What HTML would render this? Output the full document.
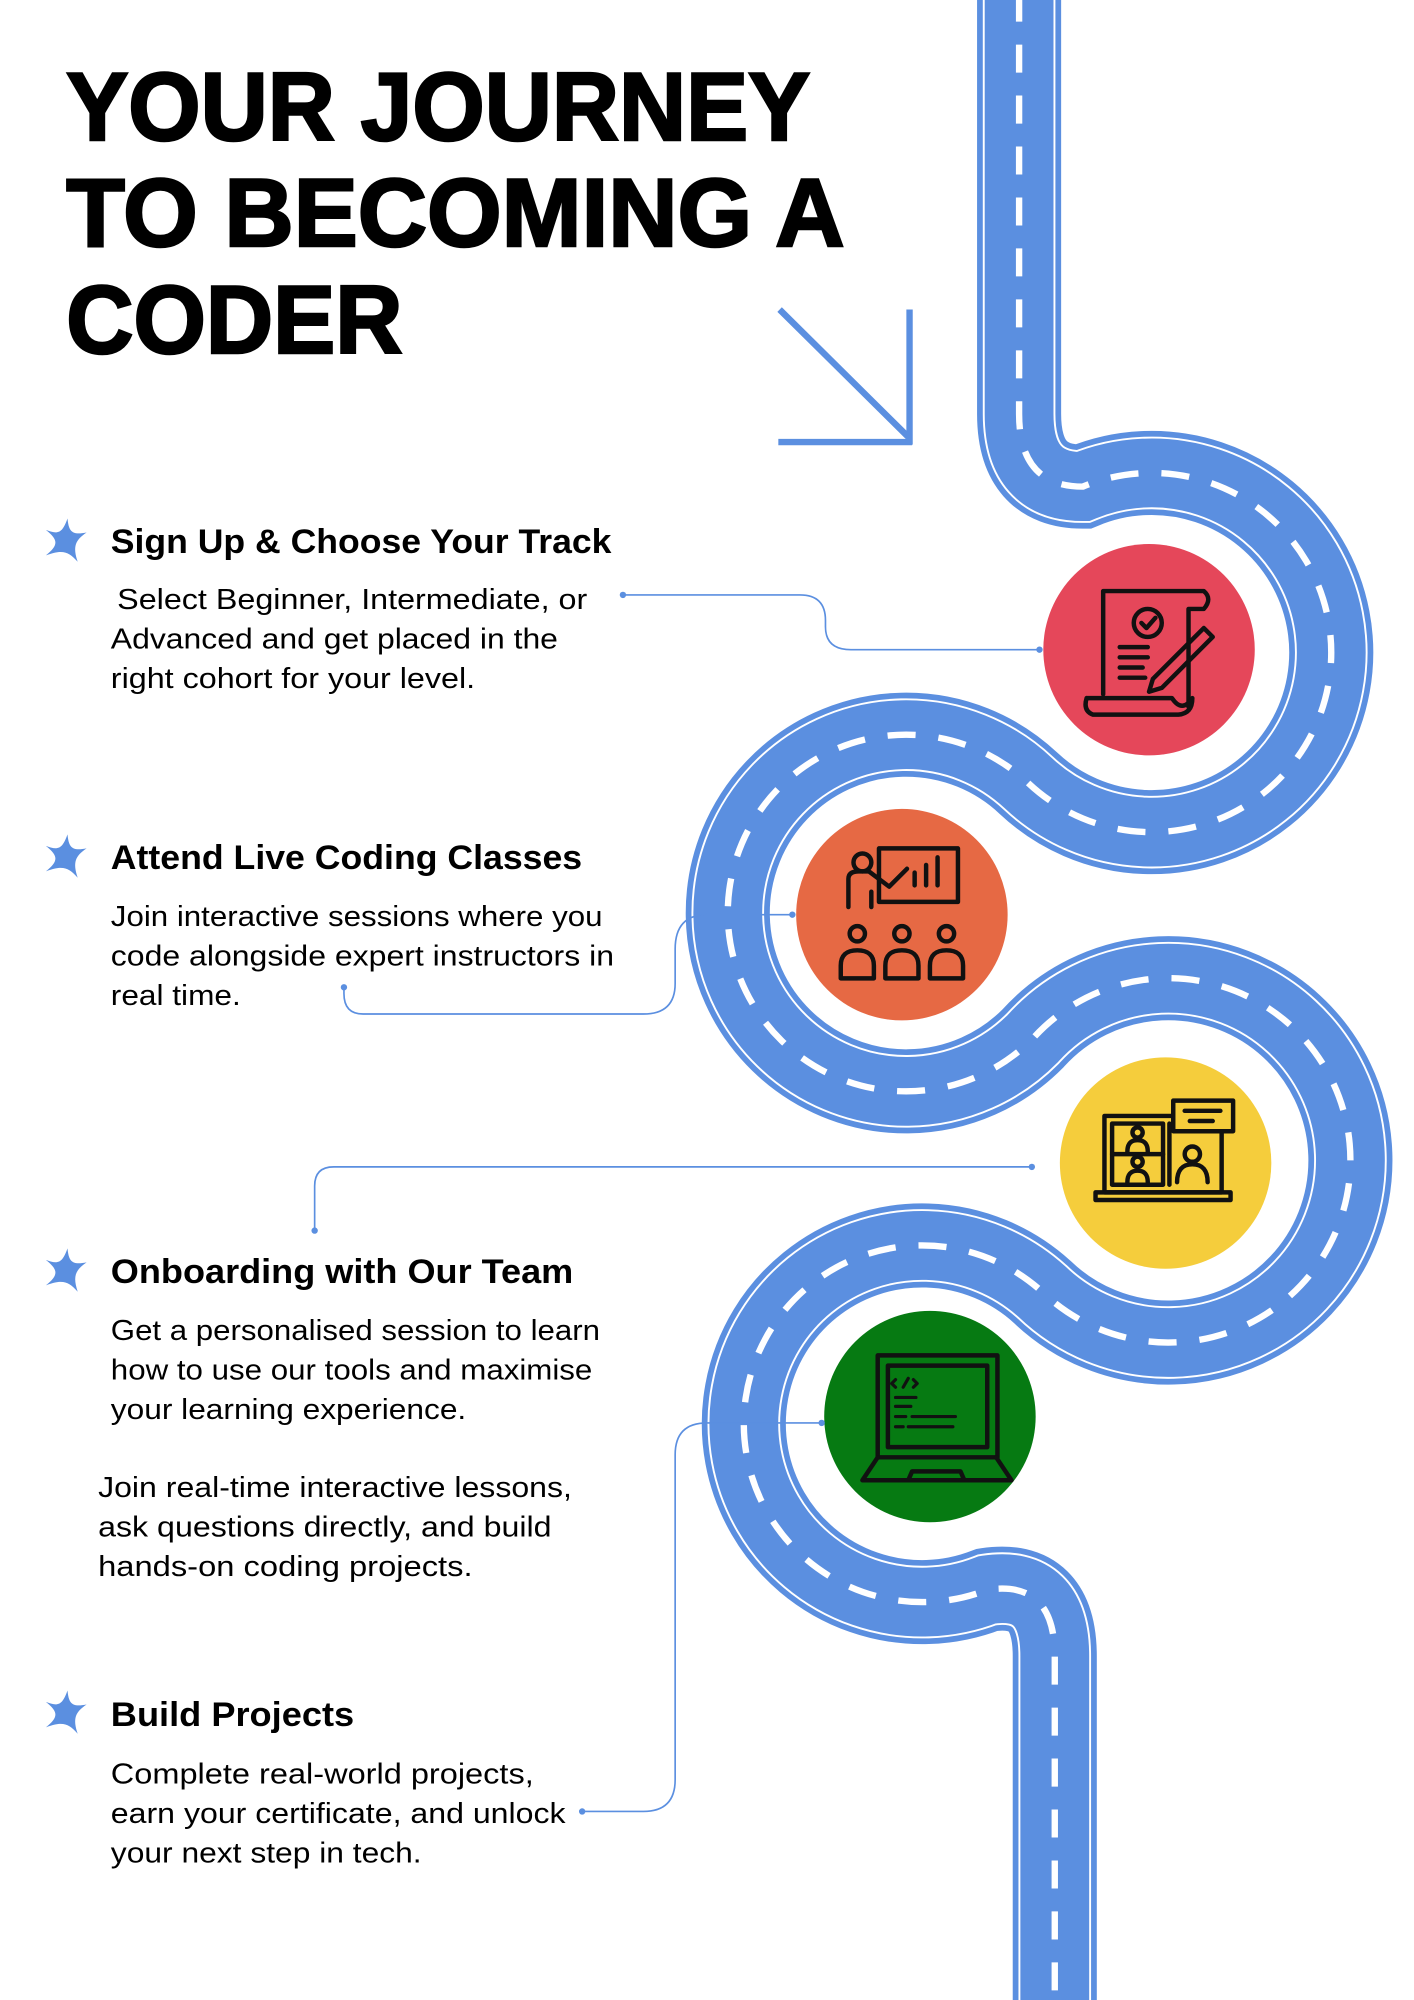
<!DOCTYPE html>
<html><head><meta charset="utf-8"><style>
html,body{margin:0;padding:0;background:#fff;}
svg{display:block;}
text{font-family:"Liberation Sans",Arial,sans-serif;fill:#000;}
.h{font-size:27px;font-weight:bold;}
.b{font-size:22.5px;}
</style></head><body>
<svg width="1414" height="2000" viewBox="0 0 1110 1570" preserveAspectRatio="none" xmlns="http://www.w3.org/2000/svg">
<rect width="1110" height="1570" fill="#fff"/>
<defs>
<path id="road" d="M800,-5 L800,325 Q800,382 850,382 A141,141 0 1 1 807.5,615 A140,140 0 1 0 811,815 A143,143 0 1 1 818,1014 A140,140 0 1 0 775,1248 Q828,1240 828,1300 L828,1580" fill="none"/>
<path id="star" d="M2,-18 C3,-7 6,-5 17,-7 C8,-1 6,4 10,16 C3,8 -2,6 -15,11 C-5,3 -5,-1 -15,-9 C-5,-5 -2,-7 2,-18 Z"/>
</defs>
<use href="#road" stroke="#5b8fe0" stroke-width="66"/>
<use href="#road" stroke="#ffffff" stroke-width="57"/>
<use href="#road" stroke="#5b8fe0" stroke-width="54"/>
<use href="#road" stroke="#ffffff" stroke-width="5" stroke-dasharray="22 18"/>

<g stroke="#5b8fe0" stroke-width="5" fill="none">
<line x1="612" y1="243" x2="713" y2="343"/>
<line x1="714" y1="243" x2="714" y2="349"/>
<line x1="611" y1="347" x2="716" y2="347"/>
</g>

<circle cx="902" cy="510" r="83" fill="#e5475a"/>
<circle cx="708" cy="718" r="83" fill="#e66944"/>
<circle cx="915" cy="913" r="83" fill="#f5cd3c"/>
<circle cx="730" cy="1112" r="83" fill="#067a12"/>

<g fill="none" stroke="#111" stroke-width="3.5" stroke-linejoin="round" stroke-linecap="round">
<path d="M866,545 L866,464 L945,464 Q952,470 945,478 L933,478 L933,555"/>
<path d="M853,548 L920,548 Q928,560 936,548 Q936,560 925,561 L858,561 Q850,558 853,548"/>
<circle cx="901" cy="489" r="11"/><path d="M896,489 l4,4 l7,-8"/>
<path d="M879,508 h22 M879,516 h22 M879,524 h18 M879,532 h20"/>
<path d="M905,533 l40,-40 l7,7 l-40,40 l-10,3 z"/>
<rect x="690" y="666" width="62" height="42"/>
<path d="M718,695 v-10 M727,695 v-16 M736,695 v-22"/>
<circle cx="677" cy="677" r="7"/>
<path d="M666,712 v-22 q0,-6 8,-6 h8 l16,12 l14,-14 M684,700 v12"/>
<circle cx="673" cy="733" r="6"/><path d="M660,768 v-10 q0,-12 13,-12 q13,0 13,12 v10 z"/>
<circle cx="708" cy="733" r="6"/><path d="M695,768 v-10 q0,-12 13,-12 q13,0 13,12 v10 z"/>
<circle cx="743" cy="733" r="6"/><path d="M730,768 v-10 q0,-12 13,-12 q13,0 13,12 v10 z"/>
<rect x="867" y="876" width="92" height="60"/>
<rect x="873" y="882" width="40" height="48"/>
<path d="M873,906 h40 M918,882 v48"/>
<path d="M860,936 h106 v6 h-106 z"/>
<rect x="921" y="864" width="47" height="24" fill="#f5cd3c"/>
<path d="M930,872 h28 M934,880 h18"/>
<circle cx="893" cy="889" r="4"/><path d="M885,904 q0,-9 8,-9 q8,0 8,9"/>
<circle cx="893" cy="912" r="4"/><path d="M885,928 q0,-9 8,-9 q8,0 8,9"/>
<circle cx="936" cy="906" r="6"/><path d="M924,928 q0,-14 12,-14 q12,0 12,14"/>
<rect x="689" y="1064" width="94" height="80"/>
<rect x="697" y="1072" width="78" height="64"/>
<path d="M689,1144 l-12,18 h117 l-12,-18 M713,1162 l3,-7 h38 l3,7"/>
<path d="M703,1083 l-3,3 l3,3 M709,1089 l4,-7 M717,1083 l3,3 l-3,3 M703,1097 h16 M703,1104 h12 M703,1112 h8 M716,1112 h34 M703,1120 h6 M713,1120 h35" stroke-width="2.5"/>
</g>

<g stroke="#5b8fe0" stroke-width="1.3" fill="none">
<path d="M489,467 H628 Q648,467 648,487 V492 Q648,510 668,510 H816"/>
<path d="M622,718 H555 Q530,718 530,745 V772 Q530,796 505,796 H285 Q270,796 270,780 V775"/>
<path d="M810,916 H262 Q247,916 247,931 V966"/>
<path d="M645,1117 H555 Q530,1117 530,1142 V1397 Q530,1422 505,1422 H457"/>
</g>
<g fill="#5b8fe0">
<circle cx="489" cy="467" r="2.5"/><circle cx="816" cy="510" r="2.5"/>
<circle cx="622" cy="718" r="2.5"/><circle cx="270" cy="775" r="2.5"/>
<circle cx="810" cy="916" r="2.5"/><circle cx="247" cy="966" r="2.5"/>
<circle cx="645" cy="1117" r="2.5"/><circle cx="457" cy="1422" r="2.5"/>
</g>

<g style="font-weight:bold;font-size:76px" stroke="#000" stroke-width="2">
<text x="52" y="110" textLength="584" lengthAdjust="spacingAndGlyphs">YOUR JOURNEY</text>
<text x="52" y="193" textLength="611" lengthAdjust="spacingAndGlyphs">TO BECOMING A</text>
<text x="52" y="277" textLength="264" lengthAdjust="spacingAndGlyphs">CODER</text>
</g>

<g fill="#5b8fe0">
<use href="#star" x="51" y="425"/>
<use href="#star" x="51" y="673"/>
<use href="#star" x="51" y="998"/>
<use href="#star" x="51" y="1345"/>
</g>

<text class="h" x="87" y="434" textLength="393" lengthAdjust="spacingAndGlyphs">Sign Up &amp; Choose Your Track</text>
<text class="b" x="92" y="478" textLength="369" lengthAdjust="spacingAndGlyphs">Select Beginner, Intermediate, or</text>
<text class="b" x="87" y="509" textLength="351" lengthAdjust="spacingAndGlyphs">Advanced and get placed in the</text>
<text class="b" x="87" y="540" textLength="286" lengthAdjust="spacingAndGlyphs">right cohort for your level.</text>

<text class="h" x="87" y="682" textLength="370" lengthAdjust="spacingAndGlyphs">Attend Live Coding Classes</text>
<text class="b" x="87" y="727" textLength="386" lengthAdjust="spacingAndGlyphs">Join interactive sessions where you</text>
<text class="b" x="87" y="758" textLength="395" lengthAdjust="spacingAndGlyphs">code alongside expert instructors in</text>
<text class="b" x="87" y="789" textLength="102" lengthAdjust="spacingAndGlyphs">real time.</text>

<text class="h" x="87" y="1007" textLength="363" lengthAdjust="spacingAndGlyphs">Onboarding with Our Team</text>
<text class="b" x="87" y="1052" textLength="384" lengthAdjust="spacingAndGlyphs">Get a personalised session to learn</text>
<text class="b" x="87" y="1083" textLength="378" lengthAdjust="spacingAndGlyphs">how to use our tools and maximise</text>
<text class="b" x="87" y="1114" textLength="279" lengthAdjust="spacingAndGlyphs">your learning experience.</text>

<text class="b" x="77" y="1175" textLength="372" lengthAdjust="spacingAndGlyphs">Join real-time interactive lessons,</text>
<text class="b" x="77" y="1206" textLength="356" lengthAdjust="spacingAndGlyphs">ask questions directly, and build</text>
<text class="b" x="77" y="1237" textLength="294" lengthAdjust="spacingAndGlyphs">hands-on coding projects.</text>

<text class="h" x="87" y="1355" textLength="191" lengthAdjust="spacingAndGlyphs">Build Projects</text>
<text class="b" x="87" y="1400" textLength="332" lengthAdjust="spacingAndGlyphs">Complete real-world projects,</text>
<text class="b" x="87" y="1431" textLength="357" lengthAdjust="spacingAndGlyphs">earn your certificate, and unlock</text>
<text class="b" x="87" y="1462" textLength="244" lengthAdjust="spacingAndGlyphs">your next step in tech.</text>
</svg>
</body></html>
